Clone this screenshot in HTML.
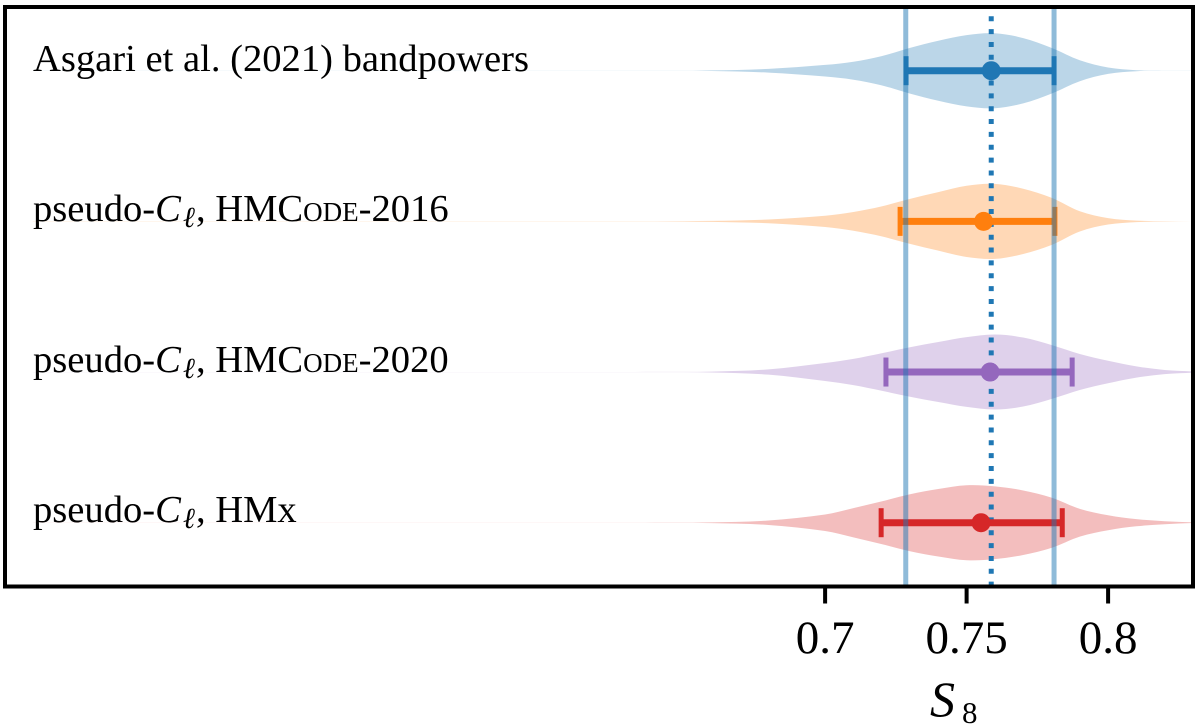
<!DOCTYPE html>
<html>
<head>
<meta charset="utf-8">
<style>
html,body{margin:0;padding:0;background:#fff;}
svg{display:block;}
text{font-family:"Liberation Serif","DejaVu Serif",serif;fill:#000;}
</style>
</head>
<body>
<svg id="chart" xmlns="http://www.w3.org/2000/svg" width="1200" height="728" viewBox="0 0 1200 728">
  <defs><clipPath id="plot-clip"><rect x="5" y="7" width="1188" height="579.5"/></clipPath></defs>
  <rect x="0" y="0" width="1200" height="728" fill="#fff"/>
  <g id="marks" clip-path="url(#plot-clip)"></g>
  <g font-size="38.6">
    <text x="33" y="71">Asgari et al. (2021) bandpowers</text>
    <text x="33" y="221">pseudo-<tspan font-style="italic">C</tspan><tspan font-style="italic" font-size="29" dy="6" dx="2">ℓ</tspan><tspan dy="-6" dx="1">, HMC</tspan><tspan font-size="27">ODE</tspan>-2016</text>
    <text x="33" y="372">pseudo-<tspan font-style="italic">C</tspan><tspan font-style="italic" font-size="29" dy="6" dx="2">ℓ</tspan><tspan dy="-6" dx="1">, HMC</tspan><tspan font-size="27">ODE</tspan>-2020</text>
    <text x="33" y="522">pseudo-<tspan font-style="italic">C</tspan><tspan font-style="italic" font-size="29" dy="6" dx="2">ℓ</tspan><tspan dy="-6" dx="1">, HMx</tspan></text>
  </g>
  <rect x="5" y="7" width="1188" height="579.5" fill="none" stroke="#000" stroke-width="4"/>
  <g id="x-axis"></g>
  <text x="930" y="716" font-size="50" font-style="italic">S</text>
  <text x="962" y="723" font-size="31">8</text>
</svg>
<script>
// Data
const s8Grid = [0.42,0.60,0.62,0.64,0.66,0.68,0.70,0.71,0.72,0.73,0.74,0.75,0.76,0.77,0.78,0.79,0.80,0.81,0.82,0.83];
const densityAsgari = [0.002,0.002,0.002,0.002,0.008,0.05,0.155,0.24,0.39,0.61,0.80,0.95,1.00,0.87,0.61,0.28,0.085,0.013,0.003,0.001];
const densityHmcode2016 = [0.002,0.002,0.002,0.003,0.012,0.05,0.15,0.25,0.40,0.60,0.78,0.95,1.00,0.87,0.63,0.27,0.085,0.02,0.005,0.001];
const densityHmcode2020 = [0.002,0.002,0.002,0.003,0.012,0.07,0.24,0.35,0.50,0.66,0.80,0.93,1.00,0.92,0.72,0.48,0.30,0.15,0.055,0.015];
const densityHmx = [0.002,0.002,0.002,0.003,0.01,0.06,0.22,0.39,0.57,0.76,0.90,1.00,0.97,0.86,0.67,0.37,0.20,0.096,0.04,0.008];
const pointValues = [0.7587,0.7560,0.7583,0.7551];
const intervalLows = [0.7286,0.7265,0.7215,0.7198];
const intervalHighs = [0.7809,0.7812,0.7873,0.7838];
const referenceCentre = 0.7587;
const referenceLow = 0.7285;
const referenceHigh = 0.7809;
const tickValues = [0.7,0.75,0.8];
const tickLabels = ["0.7","0.75","0.8"];

const seriesDensities = [densityAsgari,densityHmcode2016,densityHmcode2020,densityHmx];
const seriesColors = ["#1f77b4","#ff7f0e","#9467bd","#d62728"];
const seriesNames = ["asgari","hmcode-2016","hmcode-2020","hmx"];

// Axis functions
const xDomain = [0.4102,0.83];
const xRange = [5,1193];
function xScale(v){return xRange[0]+(v-xDomain[0])/(xDomain[1]-xDomain[0])*(xRange[1]-xRange[0]);}
function rowY(i){return 70.7+i*150.67;}
function halfHeight(d){return d*37.5;}

const NS = "http://www.w3.org/2000/svg";
function make(tag,parent){const e=document.createElementNS(NS,tag);parent.appendChild(e);return e;}
function setAll(e,props){for(const k in props){e.setAttribute(k,props[k]);}}

function curve(pts){
  let d="";
  const n=pts.length;
  const slope=i=>{
    const a=pts[Math.max(i-1,0)],b=pts[Math.min(i+1,n-1)];
    return (b[1]-a[1])/(b[0]-a[0]);
  };
  for(let i=0;i<n-1;i++){
    const p=pts[i],q=pts[i+1],dx=(q[0]-p[0])/3;
    d+=" C"+(p[0]+dx).toFixed(2)+" "+(p[1]+slope(i)*dx).toFixed(2)+" "+(q[0]-dx).toFixed(2)+" "+(q[1]-slope(i+1)*dx).toFixed(2)+" "+q[0].toFixed(2)+" "+q[1].toFixed(2);
  }
  return d;
}

const marks=document.getElementById("marks");

// Violins
seriesDensities.forEach(function(dens,i){
  const y=rowY(i);
  const top=s8Grid.map((v,j)=>[xScale(v),y-halfHeight(dens[j])]);
  const bot=s8Grid.map((v,j)=>[xScale(v),y+halfHeight(dens[j])]).reverse();
  const p=make("path",marks);
  
  
  setAll(p,{d:"M"+top[0][0].toFixed(2)+" "+top[0][1].toFixed(2)+curve(top)+" L"+bot[0][0].toFixed(2)+" "+bot[0][1].toFixed(2)+curve(bot)+" Z",fill:seriesColors[i],"fill-opacity":0.3});
});

// Dotted reference line
const centreLine=make("line",marks);


setAll(centreLine,{x1:xScale(referenceCentre),x2:xScale(referenceCentre),y1:7,y2:587,stroke:"#1f77b4","stroke-width":5,"stroke-dasharray":"5 7.85","stroke-dashoffset":3.6});

// Error bars and points
seriesColors.forEach(function(color,i){
  const y=rowY(i);
  const x0=xScale(intervalLows[i]),x1=xScale(intervalHighs[i]);
  const bar=make("line",marks);
  
  
  setAll(bar,{x1:x0,x2:x1,y1:y,y2:y,stroke:color,"stroke-width":7});
  [x0,x1].forEach(function(x,k){
    const cap=make("line",marks);
    
    
    setAll(cap,{x1:x,x2:x,y1:y-14.5,y2:y+14.5,stroke:color,"stroke-width":5});
  });
  const dot=make("circle",marks);
  
  
  setAll(dot,{cx:xScale(pointValues[i]),cy:y,r:9.5,fill:color});
});

// Reference band edges
[referenceLow,referenceHigh].forEach(function(v){
  const l=make("line",marks);
  
  
  setAll(l,{x1:xScale(v),x2:xScale(v),y1:7,y2:587,stroke:"#1f77b4","stroke-opacity":0.5,"stroke-width":5});
});

// X axis
const axis=document.getElementById("x-axis");
tickValues.forEach(function(v,i){
  const t=make("line",axis);
  
  
  setAll(t,{x1:xScale(v),x2:xScale(v),y1:587,y2:603.5,stroke:"#000","stroke-width":4});
  const lab=make("text",axis);
  
  
  setAll(lab,{x:xScale(v),y:653,"font-size":47,"text-anchor":"middle"});
  lab.textContent=tickLabels[i];
});
</script>
</body>
</html>
